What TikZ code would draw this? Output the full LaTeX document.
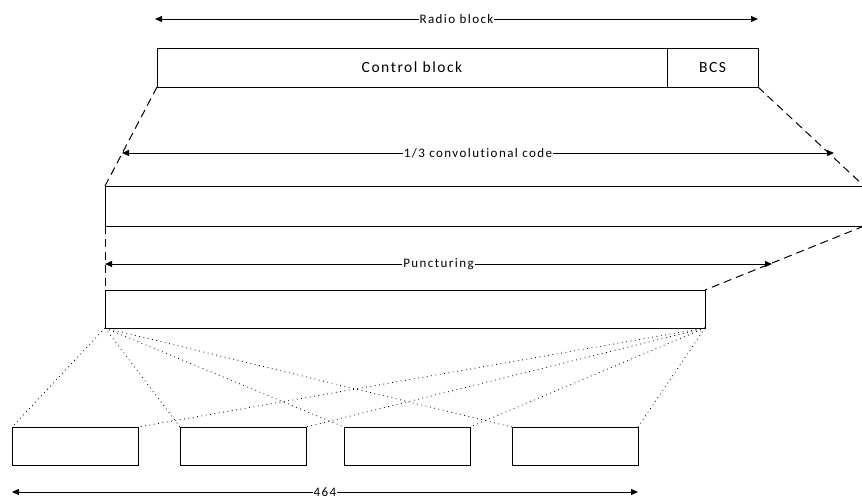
\documentclass[tikz,border=0pt]{standalone}
\usepackage{fontspec}
\setmainfont[Ligatures={NoCommon}]{Carlito}
\usetikzlibrary{arrows.meta}
\begin{document}
\begin{tikzpicture}[x=1pt,y=-1pt,
  box/.style={draw=black,line width=1pt,fill=white,inner sep=0pt,outer sep=0pt,anchor=north west,
    font=\fontsize{15.5}{18}\selectfont\addfontfeatures{LetterSpace=10,Ligatures=NoCommon}},
  dimline/.style={line width=1pt,{Triangle[length=7pt,width=6pt]}-{Triangle[length=7pt,width=6pt]}},
  dimlabel/.style={fill=white,inner sep=1pt,font=\fontsize{13}{15}\selectfont\addfontfeatures{LetterSpace=11,Ligatures=NoCommon}},
  dashline/.style={line width=1pt,dash pattern=on 8pt off 5pt},
  dotline/.style={line width=0.8pt,dash pattern=on 0.8pt off 3.6pt}]
\useasboundingbox (0,0) rectangle (862,499);
% boxes
\node[box,minimum width=510pt,minimum height=39pt] (ctrl) at (157,48) {Control block};
\node[box,minimum width=91pt,minimum height=39pt] (bcs) at (667,48) {BCS};
\node[box,minimum width=759pt,minimum height=40pt] (conv) at (105,186) {};
\node[box,minimum width=600pt,minimum height=38pt] (punct) at (105,290) {};
\node[box,minimum width=126pt,minimum height=38pt] (b1) at (12,427) {};
\node[box,minimum width=126pt,minimum height=38pt] (b2) at (180,427) {};
\node[box,minimum width=126pt,minimum height=38pt] (b3) at (344,427) {};
\node[box,minimum width=126pt,minimum height=38pt] (b4) at (512,427) {};
% dimension arrows
\coordinate (r1) at (155,19); \coordinate (r2) at (758,19);
\coordinate (c1) at (122,153); \coordinate (c2) at (834,153);
\coordinate (p1) at (105,264); \coordinate (p2) at (772,264);
\coordinate (n1) at (12,492); \coordinate (n2) at (638,492);
\draw[dimline] (r1) -- (r2) node[midway,dimlabel] {Radio block};
\draw[dimline] (c1) -- (c2) node[midway,dimlabel] {1/3 convolutional code};
\draw[dimline] (p1) -- (p2) node[midway,dimlabel] {Puncturing};
\draw[dimline] (n1) -- (n2) node[midway,dimlabel] {464};
% dashed expansion lines
\draw[dashline] (ctrl.south west) -- (conv.north west);
\draw[dashline] (bcs.south east) -- (conv.north east);
\draw[dashline] (conv.south west) -- (punct.north west);
\draw[dashline] (conv.south east) -- (punct.north east);
% dotted fan lines
\foreach \b in {b1,b2,b3,b4}{
  \draw[dotline] (punct.south west) -- (\b.north west);
  \draw[dotline] (punct.south east) -- (\b.north east);
}
\end{tikzpicture}
\end{document}
